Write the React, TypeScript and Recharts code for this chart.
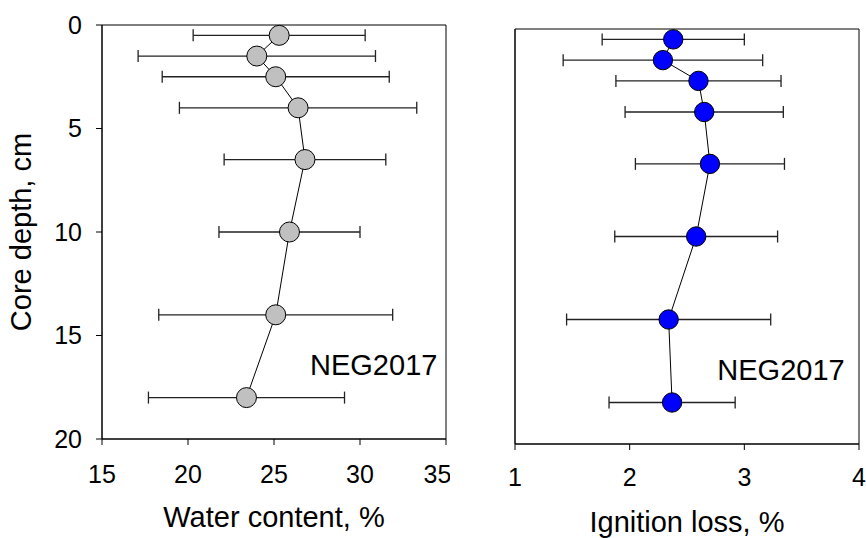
import React from 'react'
import {
  ScatterChart,
  Scatter,
  XAxis,
  YAxis,
  ErrorBar,
  ReferenceArea,
  ReferenceDot
} from 'recharts'

// core depth of each slice, cm
const depths = [0.5, 1.5, 2.5, 4, 6.5, 10, 14, 18]

const waterContent = [25.3, 24.0, 25.1, 26.4, 26.8, 25.9, 25.1, 23.4]
const waterSd = [5.0, 6.9, 6.6, 6.9, 4.7, 4.1, 6.8, 5.7]

const ignitionLoss = [2.38, 2.29, 2.6, 2.65, 2.7, 2.58, 2.34, 2.37]
const ignitionSd = [0.62, 0.87, 0.72, 0.69, 0.65, 0.71, 0.89, 0.55]

const depthTicks = [0, 5, 10, 15, 20]
const waterTicks = [15, 20, 25, 30, 35]
const ignitionTicks = [1, 2, 3, 4]

const siteName = 'NEG2017'

const FONT = '"Liberation Sans", Arial, Helvetica, sans-serif'

const waterData = depths.map((d, i) => ({ x: waterContent[i], y: d, err: waterSd[i] }))
const ignitionData = depths.map((d, i) => ({ x: ignitionLoss[i], y: d, err: ignitionSd[i] }))

const marker = (fill: string, r: number) => (props: any) => (
  <circle cx={props.cx} cy={props.cy} r={r} fill={fill} stroke="#000" strokeWidth={1} />
)

const siteText = (props: any) => (
  <text x={props.cx} y={props.cy} textAnchor="end" fontSize={29} fill="#000">
    {siteName}
  </text>
)

const tickStyle = { fill: '#000', fontSize: 25 }
const axisLine = { stroke: '#000', strokeWidth: 1 }

export default function App() {
  return (
    <div
      style={{
        position: 'absolute',
        left: 0,
        top: 0,
        width: 866,
        height: 538,
        background: '#fff',
        fontFamily: FONT
      }}
    >
      <div style={{ position: 'absolute', left: 0, top: 0 }}>
        <ScatterChart width={450} height={538} margin={{ top: 25, right: 4, bottom: 0, left: 0 }}>
          <XAxis
            type="number"
            dataKey="x"
            domain={[15, 35]}
            ticks={waterTicks}
            height={99}
            tickSize={6}
            tickMargin={20}
            tick={tickStyle}
            axisLine={axisLine}
            tickLine={axisLine}
            label={{ value: 'Water content, %', position: 'insideBottom', offset: 11, fill: '#000', fontSize: 29 }}
          />
          <YAxis
            type="number"
            dataKey="y"
            domain={[0, 20]}
            ticks={depthTicks}
            reversed
            width={102}
            tickSize={6}
            tickMargin={14}
            tick={tickStyle}
            axisLine={axisLine}
            tickLine={axisLine}
            label={{
              value: 'Core depth, cm',
              angle: -90,
              position: 'insideLeft',
              offset: 21,
              textAnchor: 'middle',
              fill: '#000',
              fontSize: 29
            }}
          />
          <ReferenceArea x1={15} x2={35} y1={0} y2={20} fill="none" stroke="#000" strokeWidth={1} />
          <Scatter
            data={waterData}
            fill="#c0c0c0"
            line={{ stroke: '#000', strokeWidth: 1 }}
            shape={marker('#c0c0c0', 10)}
            isAnimationActive={false}
          >
            <ErrorBar dataKey="err" direction="x" width={6} stroke="#222" strokeWidth={1.3} />
          </Scatter>
          <ReferenceDot x={34.5} y={16.9} r={0} shape={siteText} />
        </ScatterChart>
      </div>
      <div style={{ position: 'absolute', left: 450, top: 0 }}>
        <ScatterChart width={416} height={538} margin={{ top: 29, right: 7, bottom: 0, left: 0 }}>
          <XAxis
            type="number"
            dataKey="x"
            domain={[1, 4]}
            ticks={ignitionTicks}
            height={94}
            tickSize={6}
            tickMargin={18}
            tick={tickStyle}
            axisLine={axisLine}
            tickLine={axisLine}
            label={{ value: 'Ignition loss, %', position: 'insideBottom', offset: 6, fill: '#000', fontSize: 29 }}
          />
          <YAxis
            type="number"
            dataKey="y"
            domain={[0, 20]}
            ticks={depthTicks}
            reversed
            width={65}
            tickSize={6}
            tick={false}
            axisLine={axisLine}
            tickLine={axisLine}
          />
          <ReferenceArea x1={1} x2={4} y1={0} y2={20} fill="none" stroke="#000" strokeWidth={1} />
          <Scatter
            data={ignitionData}
            fill="#0000ff"
            line={{ stroke: '#000', strokeWidth: 1 }}
            shape={marker('#0000ff', 9.7)}
            isAnimationActive={false}
          >
            <ErrorBar dataKey="err" direction="x" width={6} stroke="#222" strokeWidth={1.3} />
          </Scatter>
          <ReferenceDot x={3.875} y={16.9} r={0} shape={siteText} />
        </ScatterChart>
      </div>
    </div>
  )
}
